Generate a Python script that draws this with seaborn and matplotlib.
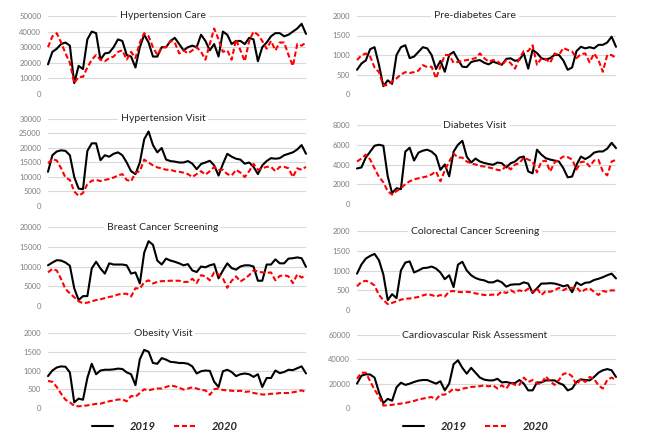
import numpy as np
import pandas as pd
import matplotlib
matplotlib.use('Agg')
import matplotlib.pyplot as plt
from matplotlib.lines import Line2D
import seaborn as sns

# index des points (meme pas de temps pour toutes les series)
weeks = list(range(60))

# Hypertension Care
hc_2019 = [19000, 27000, 29000, 32000, 33000, 31000, 7000, 18000, 16000, 35000,
           40000, 39000, 22000, 26000, 26500, 30000, 35000, 34000, 25000, 24000,
           17000, 30000, 38000, 33000, 24000, 24000, 30000, 30000, 34000, 36000,
           32000, 28000, 30000, 31000, 30000, 38000, 34000, 28000, 32000, 24000,
           40000, 38000, 32000, 34000, 34000, 32000, 36000, 35000, 21000, 30000,
           33000, 37000, 39000, 39000, 37000, 38000, 40000, 42000, 45000, 38500]
hc_2020 = [30000, 37000, 39000, 33000, 26000, 20000, 7000, 11000, 11000, 17000,
           22000, 25000, 22000, 21000, 23000, 24000, 27000, 28000, 22000, 27000,
           23000, 33000, 39000, 37000, 30000, 25000, 30000, 30000, 34000, 33000,
           26000, 28000, 26000, 28000, 30000, 27000, 22000, 32000, 42000, 35000,
           27000, 28000, 22000, 35000, 28000, 21000, 34000, 40000, 38000, 34000,
           29000, 34000, 28000, 33000, 33000, 25000, 18000, 32000, 31000, 33000]

# Hypertension Visit
hv_2019 = [11800, 17500, 18800, 19200, 19000, 17500, 10000, 6000, 5800, 19000,
           21600, 21600, 15800, 17500, 17000, 18000, 18500, 17500, 15000, 12000,
           11000, 15000, 23000, 25700, 21000, 18500, 20000, 16000, 15500, 15300,
           15000, 15000, 15500, 14600, 12700, 14500, 15000, 15600, 14000, 10500,
           14500, 18000, 17000, 16300, 16000, 14600, 15000, 13500, 11000, 14000,
           15500, 16500, 16300, 16500, 17500, 18000, 18500, 19500, 21000, 18000]
hv_2020 = [14700, 16200, 15700, 13000, 9800, 9000, 5000, 3500, 4500, 7500,
           8700, 9000, 8600, 9000, 9300, 9800, 10500, 11000, 9000, 8500,
           11500, 12000, 16000, 15000, 14000, 13300, 13000, 12500, 12500, 12000,
           11800, 11500, 11000, 10000, 11000, 12000, 10800, 12000, 13500, 12500,
           12500, 11000, 10500, 12500, 11500, 10000, 12000, 14500, 12500, 13000,
           13500, 13500, 12000, 13500, 13500, 13000, 10000, 13000, 12500, 13500]

# Breast Cancer Screening
bcs_2019 = [10300, 11000, 11600, 11500, 11000, 10200, 4500, 1500, 2500, 2500,
            9500, 11200, 9500, 8200, 10800, 10500, 10500, 10500, 10300, 8200,
            8500, 5700, 13500, 16400, 15500, 11500, 10500, 12000, 11500, 11200,
            10800, 10300, 10600, 9000, 8600, 10000, 9800, 10300, 10600, 7000,
            9000, 10800, 9600, 9200, 10000, 10300, 10300, 10000, 6400, 6400,
            10500, 10500, 11800, 10800, 10800, 12000, 12100, 12300, 12100, 9900]
bcs_2020 = [8500, 9400, 9000, 6800, 4300, 3200, 2200, 1200, 700, 850,
            1200, 1500, 1700, 2000, 2300, 2500, 2900, 3100, 3100, 2400,
            4500, 4400, 6000, 6500, 5700, 6100, 6300, 6300, 6400, 6400,
            6400, 6100, 6100, 6900, 5800, 7800, 7500, 6500, 8500, 8000,
            7000, 4600, 6400, 7500, 6200, 6900, 7800, 9000, 8800, 8500,
            8400, 8500, 6500, 7600, 7800, 7500, 5800, 8000, 7200, 7800]

# Obesity Visit
ov_2019 = [850, 1000, 1080, 1110, 1100, 950, 150, 250, 220, 800,
           1180, 900, 1000, 1020, 1020, 1030, 1050, 1040, 950, 900,
           610, 1300, 1550, 1500, 1200, 1180, 1330, 1290, 1230, 1220,
           1200, 1200, 1180, 1110, 920, 980, 1000, 990, 700, 560,
           980, 1020, 960, 850, 900, 920, 900, 830, 900, 560,
           800, 800, 1000, 930, 960, 1020, 1010, 1060, 1110, 920]
ov_2020 = [720, 700, 560, 380, 220, 150, 60, 45, 55, 70,
           90, 110, 115, 150, 180, 200, 225, 230, 180, 320,
           300, 400, 500, 470, 500, 520, 520, 560, 600, 580,
           540, 490, 520, 550, 520, 480, 470, 350, 500, 520,
           480, 470, 460, 450, 460, 430, 440, 400, 380, 360,
           360, 380, 380, 400, 400, 400, 420, 440, 470, 430]

# Pre-diabetes Care
pd_2019 = [620, 780, 860, 1150, 1200, 750, 200, 350, 260, 1000,
           1200, 1250, 920, 960, 1080, 1200, 1170, 1000, 640, 850,
           570, 1000, 1080, 880, 700, 690, 820, 850, 870, 800,
           760, 830, 790, 750, 900, 915, 850, 880, 1040, 650,
           1130, 1050, 920, 880, 920, 1000, 1000, 860, 620, 680,
           1100, 1210, 1170, 1200, 1170, 1260, 1260, 1320, 1470, 1210]
pd_2020 = [870, 990, 1040, 960, 680, 560, 220, 230, 320, 400,
           500, 560, 540, 560, 600, 740, 690, 700, 400, 700,
           1000, 1000, 800, 820, 850, 870, 890, 920, 1040, 915,
           830, 870, 840, 740, 870, 790, 650, 915, 1100, 1100,
           1250, 750, 915, 900, 800, 1040, 1000, 1180, 1130, 1090,
           920, 1020, 1040, 810, 1040, 870, 570, 1000, 1000, 920]

# Diabetes Visit
dv_2019 = [3600, 3700, 4700, 5300, 5900, 6000, 5900, 2800, 1100, 1600,
           1500, 5300, 5700, 4400, 5200, 5400, 5500, 5300, 4900, 3460,
           4000, 2800, 5300, 6000, 6400, 4800, 4200, 4600, 4300, 4150,
           4050, 3970, 4200, 4130, 3700, 4130, 4300, 4700, 4810, 3300,
           3100, 5500, 5000, 4640, 4500, 4400, 4300, 3630, 2700, 2780,
           3970, 4800, 4550, 4800, 5200, 5320, 5320, 5600, 6200, 5660]
dv_2020 = [4300, 4600, 5000, 4500, 3600, 2750, 2200, 1300, 950, 1300,
           1600, 2000, 2300, 2500, 2600, 2700, 2800, 3000, 3300, 2300,
           3400, 4300, 5100, 4700, 4700, 4300, 4100, 4000, 3850, 3800,
           3700, 3600, 3450, 3400, 3900, 3500, 4000, 4130, 4700, 4500,
           4300, 3200, 4300, 4400, 3300, 4200, 4500, 4810, 4750, 4500,
           3500, 4250, 4300, 3800, 4400, 4470, 3300, 2900, 4300, 4470]

# Colorectal Cancer Screening
crc_2019 = [920, 1150, 1300, 1370, 1420, 1260, 900, 250, 400, 300,
            1000, 1200, 1230, 950, 1000, 1060, 1070, 1100, 1050, 950,
            780, 880, 580, 1150, 1220, 1000, 880, 810, 770, 750,
            700, 700, 750, 700, 590, 640, 650, 650, 700, 670,
            430, 550, 670, 670, 680, 670, 640, 600, 630, 450,
            700, 630, 690, 700, 760, 790, 830, 880, 920, 800]
crc_2020 = [600, 710, 740, 700, 620, 380, 250, 150, 180, 220,
            260, 290, 290, 310, 330, 370, 400, 380, 340, 380,
            340, 470, 480, 460, 450, 460, 450, 420, 400, 380,
            380, 390, 380, 470, 430, 500, 440, 500, 460, 540,
            460, 550, 380, 480, 460, 500, 560, 500, 560, 560,
            580, 450, 520, 550, 460, 380, 480, 460, 500, 490]

# Cardiovascular Risk Assessment
cra_2019 = [20000, 26500, 27700, 27500, 25000, 13000, 4000, 7500, 6000, 17000,
            20800, 19000, 20000, 21400, 22500, 23000, 23000, 21500, 20000, 22000,
            14500, 20000, 36000, 39200, 33000, 28200, 33000, 29000, 25000, 23300,
            22700, 22700, 24000, 21000, 21400, 20500, 20500, 23000, 20000, 14500,
            14500, 21000, 21000, 22700, 22700, 22700, 20500, 19000, 14500, 15900,
            21400, 23500, 23000, 22700, 25500, 29000, 31000, 32000, 31000, 25500]
cra_2020 = [24000, 29000, 29000, 22000, 15000, 9600, 2000, 2300, 2600, 3200,
            3600, 4200, 4900, 5800, 7000, 7700, 8500, 9000, 7000, 11000,
            11000, 13000, 15900, 14500, 15900, 16500, 17300, 17500, 18000, 18500,
            17800, 18600, 16000, 18600, 16000, 21000, 19000, 19000, 25000, 21400,
            23000, 20000, 20000, 26000, 22000, 19000, 23000, 28000, 28800, 26000,
            19000, 24000, 21400, 25500, 24000, 18600, 16000, 23000, 25000, 23000]

titles = ['Hypertension Care', 'Hypertension Visit', 'Breast Cancer Screening', 'Obesity Visit',
          'Pre-diabetes Care', 'Diabetes Visit', 'Colorectal Cancer Screening',
          'Cardiovascular Risk Assessment']
series = [(hc_2019, hc_2020), (hv_2019, hv_2020), (bcs_2019, bcs_2020), (ov_2019, ov_2020),
          (pd_2019, pd_2020), (dv_2019, dv_2020), (crc_2019, crc_2020), (cra_2019, cra_2020)]
y_ticks = [range(0, 50001, 10000), range(0, 30001, 5000), range(0, 20001, 5000), range(0, 2001, 500),
           range(0, 2001, 500), range(0, 8001, 2000), range(0, 2001, 500), range(0, 60001, 20000)]

sns.set_style('white')
plt.rcParams['font.family'] = ['Lato', 'DejaVu Sans']

W, H = 650, 441
fig = plt.figure(figsize=(6.5, 4.41), dpi=100)

# position des zones de trace en pixels : (gauche, droite, haut, bas)
boxes = [(48, 306, 16, 94), (48, 306, 119, 206), (48, 306, 227, 306), (48, 306, 333, 408),
         (357, 616, 16, 94), (357, 616, 125, 204), (357, 616, 231, 310), (357, 616, 335, 408)]
title_x = [163, 163, 163, 163, 475, 475, 475, 475]

for i in range(8):
    l, r, t, b = boxes[i]
    ax = fig.add_axes([l / W, 1 - b / H, (r - l) / W, (b - t) / H])
    s19, s20 = series[i]
    df = pd.DataFrame({'week': weeks * 2, 'value': s19 + s20,
                       'year': ['2019'] * len(s19) + ['2020'] * len(s20)})
    sns.lineplot(data=df[df.year == '2019'], x='week', y='value', color='black',
                 linewidth=1.5, ax=ax, clip_on=False)
    sns.lineplot(data=df[df.year == '2020'], x='week', y='value', color='#ff0000',
                 linewidth=1.5, dashes=False, ax=ax, clip_on=False)
    ax.lines[1].set_dashes((2.5, 1.3))
    ticks = list(y_ticks[i])
    ax.set_ylim(0, ticks[-1])
    ax.set_yticks(ticks)
    ax.set_yticklabels([str(v) for v in ticks])
    ax.set_xlim(0, len(weeks) - 1)
    ax.set_xticks([])
    ax.set_xlabel('')
    ax.set_ylabel('')
    ax.grid(axis='y', color='#d9d9d9', linewidth=0.8)
    ax.set_axisbelow(True)
    for sp in ax.spines.values():
        sp.set_visible(False)
    ax.tick_params(axis='y', labelsize=5.5, labelcolor='#7f7f7f', length=0, pad=5)
    ax.set_facecolor('none')
    fig.text(title_x[i] / W, 1 - t / H, titles[i], ha='center', va='center', fontsize=7.5,
             color='#262626', bbox=dict(facecolor='white', edgecolor='none', pad=2))

handles = [Line2D([], [], color='black', linewidth=1.5),
           Line2D([], [], color='#ff0000', linewidth=1.5, dashes=(2.5, 1.3))]
for cx in [165, 476]:
    fig.legend(handles, ['2019', '2020'], loc='center', bbox_to_anchor=(cx / W, 1 - 426 / H),
               ncol=2, frameon=False, handlelength=1.9, handletextpad=1.5, columnspacing=1.6,
               prop={'weight': 'bold', 'style': 'italic', 'size': 8})

fig.savefig('out.png', dpi=100)
